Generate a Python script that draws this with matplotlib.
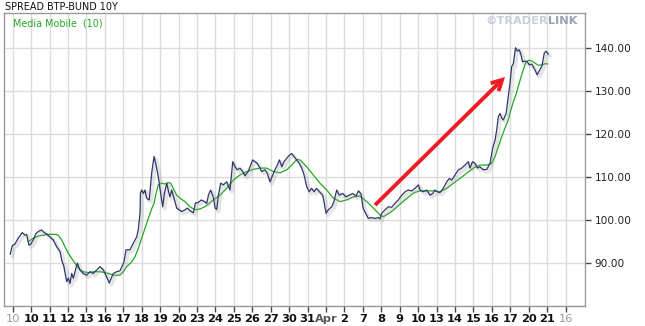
import matplotlib
matplotlib.use("Agg")
import matplotlib.pyplot as plt
import matplotlib.patheffects as pe

# ---- data (x = trading-day index, y = spread level) ----
price_t = [-0.13, -0.02, 0.12, 0.30, 0.52, 0.67, 0.76, 0.88, 0.98, 1.12, 1.26, 1.44, 1.57, 1.71, 1.84,
           2.02, 2.20, 2.39, 2.57, 2.66, 2.78, 2.93, 3.02, 3.11, 3.20, 3.29, 3.43, 3.51, 3.65, 3.83,
           4.02, 4.19, 4.37, 4.56, 4.74, 4.92, 5.10, 5.24, 5.46, 5.64, 5.82, 6.04, 6.15, 6.36, 6.54,
           6.73, 6.81, 6.91, 6.93, 7.00, 7.09, 7.18, 7.27, 7.41, 7.54, 7.67, 7.78, 7.90, 8.03, 8.14,
           8.23, 8.36, 8.44, 8.53, 8.63, 8.75, 8.90, 9.04, 9.17, 9.35, 9.47, 9.62, 9.80, 9.92, 10.07,
           10.23, 10.41, 10.53, 10.62, 10.74, 10.88, 10.98, 11.07, 11.16, 11.29, 11.43, 11.61, 11.79,
           11.94, 12.06, 12.19, 12.33, 12.48, 12.60, 12.78, 12.91, 13.02, 13.15, 13.27, 13.38, 13.51,
           13.69, 13.81, 13.96, 14.11, 14.23, 14.36, 14.47, 14.60, 14.72, 14.87, 15.01, 15.14, 15.26,
           15.41, 15.55, 15.68, 15.81, 15.95, 16.09, 16.22, 16.35, 16.49, 16.64, 16.82, 16.89, 17.00,
           17.12, 17.31, 17.43, 17.58, 17.72, 17.91, 18.08, 18.26, 18.45, 18.63, 18.76, 18.90, 19.01,
           19.14, 19.29, 19.48, 19.66, 19.84, 19.93, 20.02, 20.20, 20.38, 20.56, 20.74, 20.92, 21.11,
           21.29, 21.46, 21.65, 21.83, 22.01, 22.10, 22.28, 22.46, 22.64, 22.79, 22.91, 23.04, 23.18,
           23.36, 23.55, 23.69, 23.82, 24.00, 24.18, 24.36, 24.54, 24.72, 24.81, 24.95, 25.08, 25.22,
           25.35, 25.53, 25.72, 25.90, 26.04, 26.17, 26.26, 26.35, 26.44, 26.53, 26.62, 26.77, 26.89,
           26.98, 27.07, 27.16, 27.28, 27.38, 27.49, 27.58, 27.66, 27.77, 27.92, 28.03, 28.16, 28.34,
           28.45, 28.54, 28.71, 28.84, 28.94, 29.05]
price_v = [92.0, 94.0, 94.3, 95.7, 97.0, 96.4, 96.6, 94.1, 94.3, 95.3, 96.8, 97.4, 97.6, 97.0, 96.7,
           96.0, 95.3, 93.7, 92.6, 90.6, 89.1, 85.6, 86.4, 85.2, 87.5, 86.4, 88.7, 89.9, 88.3, 87.5,
           87.1, 87.9, 87.5, 88.3, 89.1, 88.3, 86.7, 85.3, 87.5, 87.9, 88.1, 90.2, 93.0, 93.0, 94.5,
           96.0, 97.6, 101.5, 106.1, 106.9, 106.1, 106.9, 105.0, 104.6, 110.8, 114.7, 112.7, 110.0, 106.1, 103.0,
           106.1, 108.5, 106.9, 105.3, 106.9, 105.0, 102.7, 102.3, 101.9, 102.3, 102.7, 102.1, 101.6, 103.9, 104.0,
           104.6, 104.2, 103.8, 105.7, 106.9, 105.3, 102.7, 102.4, 105.7, 108.5, 108.1, 108.8, 106.9,
           113.5, 112.3, 111.6, 112.0, 111.2, 110.2, 111.2, 112.7, 113.9, 113.5, 113.1, 112.3, 111.2,
           111.6, 110.8, 108.8, 110.4, 111.6, 112.7, 113.9, 112.3, 113.5, 114.3, 115.0, 115.4, 114.7,
           113.9, 113.1, 112.0, 110.4, 107.7, 106.5, 107.3, 106.5, 107.3, 106.5, 105.7, 104.2, 101.5,
           102.3, 103.0, 104.2, 106.9, 105.7, 106.1, 105.3, 105.7, 106.1, 105.5, 106.7, 106.0, 102.7,
           101.6, 100.3, 100.5, 100.3, 100.5, 100.2, 101.5, 102.3, 103.0, 102.9, 103.8, 104.6, 105.7,
           106.5, 106.9, 106.7, 107.3, 108.1, 106.9, 106.5, 106.9, 105.7, 106.1, 106.9, 106.5, 106.3,
           107.3, 108.8, 109.6, 109.2, 110.4, 111.6, 112.0, 112.7, 113.5, 112.0, 113.5, 113.1, 112.0,
           112.3, 111.6, 111.7, 113.1, 116.6, 118.5, 120.9, 124.0, 124.7, 123.6, 123.2, 124.7, 128.6,
           131.7, 135.6, 136.2, 140.0, 139.2, 139.5, 138.3, 136.7, 136.9, 136.7, 136.0, 136.2, 134.8,
           133.7, 134.4, 135.7, 138.7, 139.2, 138.5]

ma_t = [0.85, 1.12, 1.39, 1.66, 1.93, 2.30, 2.47, 2.66, 2.84, 3.02, 3.20, 3.38, 3.56, 3.83, 4.10,
        4.37, 4.74, 5.01, 5.19, 5.46, 5.82, 6.00, 6.19, 6.46, 6.64, 6.81, 7.00, 7.18, 7.36, 7.54,
        7.67, 7.78, 7.90, 8.08, 8.26, 8.44, 8.57, 8.71, 8.90, 9.08, 9.35, 9.62, 9.89, 10.16, 10.43,
        10.67, 10.88, 11.25, 11.61, 11.97, 12.33, 12.70, 13.05, 13.42, 13.78, 14.14, 14.50, 14.87,
        15.23, 15.41, 15.59, 15.95, 16.31, 16.67, 17.04, 17.40, 17.76, 18.12, 18.48, 18.84, 19.21,
        19.57, 19.93, 20.11, 20.47, 20.91, 21.34, 21.78, 22.10, 22.46, 22.82, 23.18, 23.55, 23.91,
        24.27, 24.63, 24.99, 25.35, 25.72, 25.99, 26.17, 26.35, 26.53, 26.71, 26.89, 26.98, 27.16,
        27.35, 27.53, 27.71, 27.85, 27.98, 28.16, 28.34, 28.52, 28.71, 28.89, 29.03]
ma_v = [94.9, 95.7, 96.2, 96.4, 96.6, 96.6, 96.4, 95.3, 93.7, 92.2, 91.0, 89.9, 88.7, 87.9, 87.7,
        87.9, 87.9, 87.7, 87.5, 87.1, 87.1, 87.9, 89.1, 90.2, 91.4, 93.3, 95.7, 98.0, 100.3, 102.5,
        103.8, 106.1, 108.1, 108.5, 108.3, 108.6, 108.5, 107.3, 105.7, 105.0, 104.2, 103.0, 102.3, 102.5, 103.0,
        103.8, 104.6, 105.7, 107.3, 109.2, 110.4, 111.2, 111.7, 112.0, 112.0, 111.2, 110.9, 111.6,
        113.1, 114.0, 113.9, 112.3, 110.4, 108.5, 106.9, 105.0, 104.2, 104.6, 105.3, 105.5, 104.2,
        102.7, 101.1, 100.7, 101.6, 103.2, 104.8, 106.3, 106.7, 106.7, 106.7, 106.5, 107.3, 108.5,
        109.6, 110.8, 112.0, 112.7, 112.7, 113.1, 114.7, 117.0, 119.3, 121.3, 123.2, 124.8, 127.4,
        129.7, 132.5, 135.0, 136.7, 137.1, 136.9, 136.4, 135.9, 136.0, 136.3, 136.2]

x_labels = ["10", "10", "11", "12", "13", "16", "17", "18", "19", "20", "23", "24", "25", "26", "27",
            "30", "31", "Apr", "2", "7", "8", "9", "10", "13", "14", "15", "16", "17", "20", "21", "16"]
y_ticks = [90, 100, 110, 120, 130, 140]

arrow_start = (19.66, 103.4)
arrow_end = (26.71, 133.2)

title = "SPREAD BTP-BUND 10Y"
legend_label = "Media Mobile  (10)"

# ---- figure ----
fig = plt.figure(figsize=(6.45, 3.26), dpi=100)
ax = fig.add_axes([4 / 645, 1 - 306 / 326, 581 / 645, 293 / 326])
ax.set_xlim(-0.47, 31.05)
ax.set_ylim(79.93, 148.07)

grid_c = "#dcdcdc"
ax.set_xticks(range(len(x_labels)))
ax.set_yticks(y_ticks)
for i in range(len(x_labels)):
    ax.axvline(i, color=grid_c, lw=1.0, zorder=0)
for yv in [80] + y_ticks:
    ax.axhline(yv, color=grid_c, lw=1.0, zorder=0)

for s in ax.spines.values():
    s.set_color("#9a9a9a")
    s.set_linewidth(1.0)

ax.plot(ma_t, ma_v, color="#1faa1f", lw=0.9, zorder=3)
ax.plot(price_t, price_v, color="#30386c", lw=0.9, zorder=4,
        path_effects=[pe.SimpleLineShadow(offset=(1.5, -1.5), shadow_color="#999999", alpha=0.25, linewidth=2.6),
                      pe.Normal()])

ax.annotate("", xy=arrow_end, xytext=arrow_start,
            arrowprops=dict(arrowstyle="->,head_length=0.75,head_width=0.4", color="#ee1c24", lw=2.8,
                            shrinkA=0, shrinkB=0, joinstyle="miter", capstyle="butt"), zorder=5)

# axes ticks
ax.yaxis.tick_right()
ax.tick_params(axis="y", direction="out", length=4, width=1, color="#444444", pad=3,
               labelsize=7.6, labelcolor="#222222")
ax.set_yticklabels([f"{v:.2f}" for v in y_ticks])
ax.tick_params(axis="x", direction="out", length=4, width=1, color="#444444", pad=1.5)
ax.set_xticklabels(x_labels)
for i, lab in enumerate(ax.get_xticklabels()):
    lab.set_fontsize(8.2)
    if i == 0 or i == len(x_labels) - 1:
        lab.set_color("#999999")
        lab.set_fontweight("normal")
    elif x_labels[i] == "Apr":
        lab.set_color("#555555")
        lab.set_fontweight("bold")
    else:
        lab.set_color("#111111")
        lab.set_fontweight("bold")

# texts
fig.text(5 / 645, 1 - 7 / 326, title, fontsize=6.9, color="#111111", va="center", ha="left")
fig.text(13 / 645, 1 - 24 / 326, legend_label, fontsize=6.9, color="#22aa22", va="center", ha="left")
t1 = fig.text(485 / 645, 1 - 21 / 326, "©TRADER", fontsize=8.2, fontweight="bold", color="#c9ccd9",
              va="center", ha="left")
fig.canvas.draw()
bb = t1.get_window_extent()
fig.text(bb.x1 / 645, 1 - 21 / 326, "LINK", fontsize=8.2, fontweight="bold", color="#9ca1b3",
         va="center", ha="left")

fig.savefig("out.png", dpi=100, facecolor="white")
